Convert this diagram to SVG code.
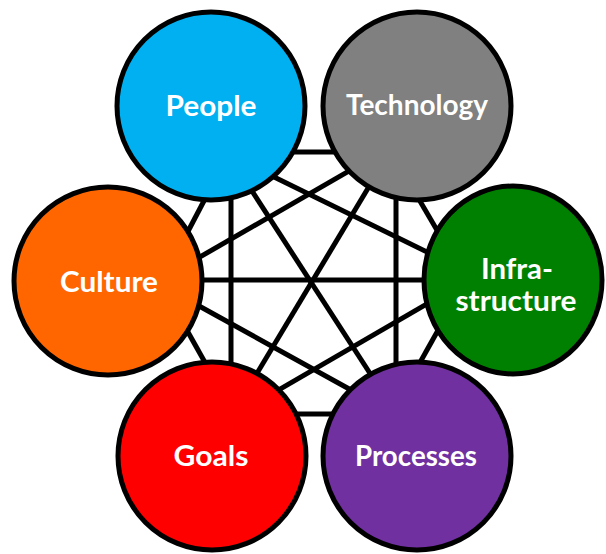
<svg xmlns="http://www.w3.org/2000/svg" width="606" height="554" viewBox="0 0 606 554">
<style>
.edge{stroke:#000;stroke-width:5;fill:none}
.node{stroke:#000;stroke-width:5}
.lbl{font-family:Lato,"Open Sans","Liberation Sans",sans-serif;font-weight:700;font-size:29px;fill:#fff;text-anchor:middle}
</style>
<rect width="606" height="554" fill="#fff"/>
<g id="connectors">
<line class="edge" x1="290" y1="152" x2="340" y2="152"/>
<line class="edge" x1="195" y1="280" x2="430" y2="280"/>
<line class="edge" x1="292" y1="414" x2="338" y2="414"/>
<line class="edge" x1="231" y1="190" x2="231" y2="370"/>
<line class="edge" x1="396" y1="190" x2="396" y2="370"/>
<line class="edge" x1="206" y1="197" x2="184" y2="239"/>
<line class="edge" x1="417" y1="196" x2="441" y2="237"/>
<line class="edge" x1="184" y1="325" x2="207" y2="366"/>
<line class="edge" x1="441" y1="325" x2="418" y2="366"/>
<line class="edge" x1="360" y1="164.6" x2="190" y2="262.7"/>
<line class="edge" x1="270" y1="175" x2="432" y2="254.4"/>
<line class="edge" x1="250" y1="188" x2="373" y2="378"/>
<line class="edge" x1="371" y1="183.3" x2="254" y2="378.3"/>
<line class="edge" x1="195" y1="303.7" x2="356" y2="392.7"/>
<line class="edge" x1="433" y1="300.3" x2="274" y2="392.7"/>
</g>
<g id="people">
<circle class="node" cx="211" cy="106" r="94" fill="#00B0F0"/>
<text class="lbl" x="211" y="116" textLength="91" lengthAdjust="spacingAndGlyphs">People</text>
</g>
<g id="technology">
<circle class="node" cx="417" cy="106" r="94" fill="#808080"/>
<text class="lbl" x="417" y="115" textLength="142" lengthAdjust="spacingAndGlyphs">Technology</text>
</g>
<g id="culture">
<circle class="node" cx="108" cy="281" r="94" fill="#FF6600"/>
<text class="lbl" x="109" y="292" textLength="98" lengthAdjust="spacingAndGlyphs">Culture</text>
</g>
<g id="infrastructure">
<ellipse class="node" cx="513" cy="280" rx="89" ry="94" fill="#008000"/>
<text class="lbl" x="517" y="279" textLength="72" lengthAdjust="spacingAndGlyphs">Infra-</text>
<text class="lbl" x="516" y="311" textLength="121" lengthAdjust="spacingAndGlyphs">structure</text>
</g>
<g id="goals">
<circle class="node" cx="212" cy="456" r="94" fill="#FF0000"/>
<text class="lbl" x="211" y="466" textLength="75" lengthAdjust="spacingAndGlyphs">Goals</text>
</g>
<g id="processes">
<circle class="node" cx="417" cy="456" r="94" fill="#7030A0"/>
<text class="lbl" x="416" y="466" textLength="122" lengthAdjust="spacingAndGlyphs">Processes</text>
</g>
</svg>
